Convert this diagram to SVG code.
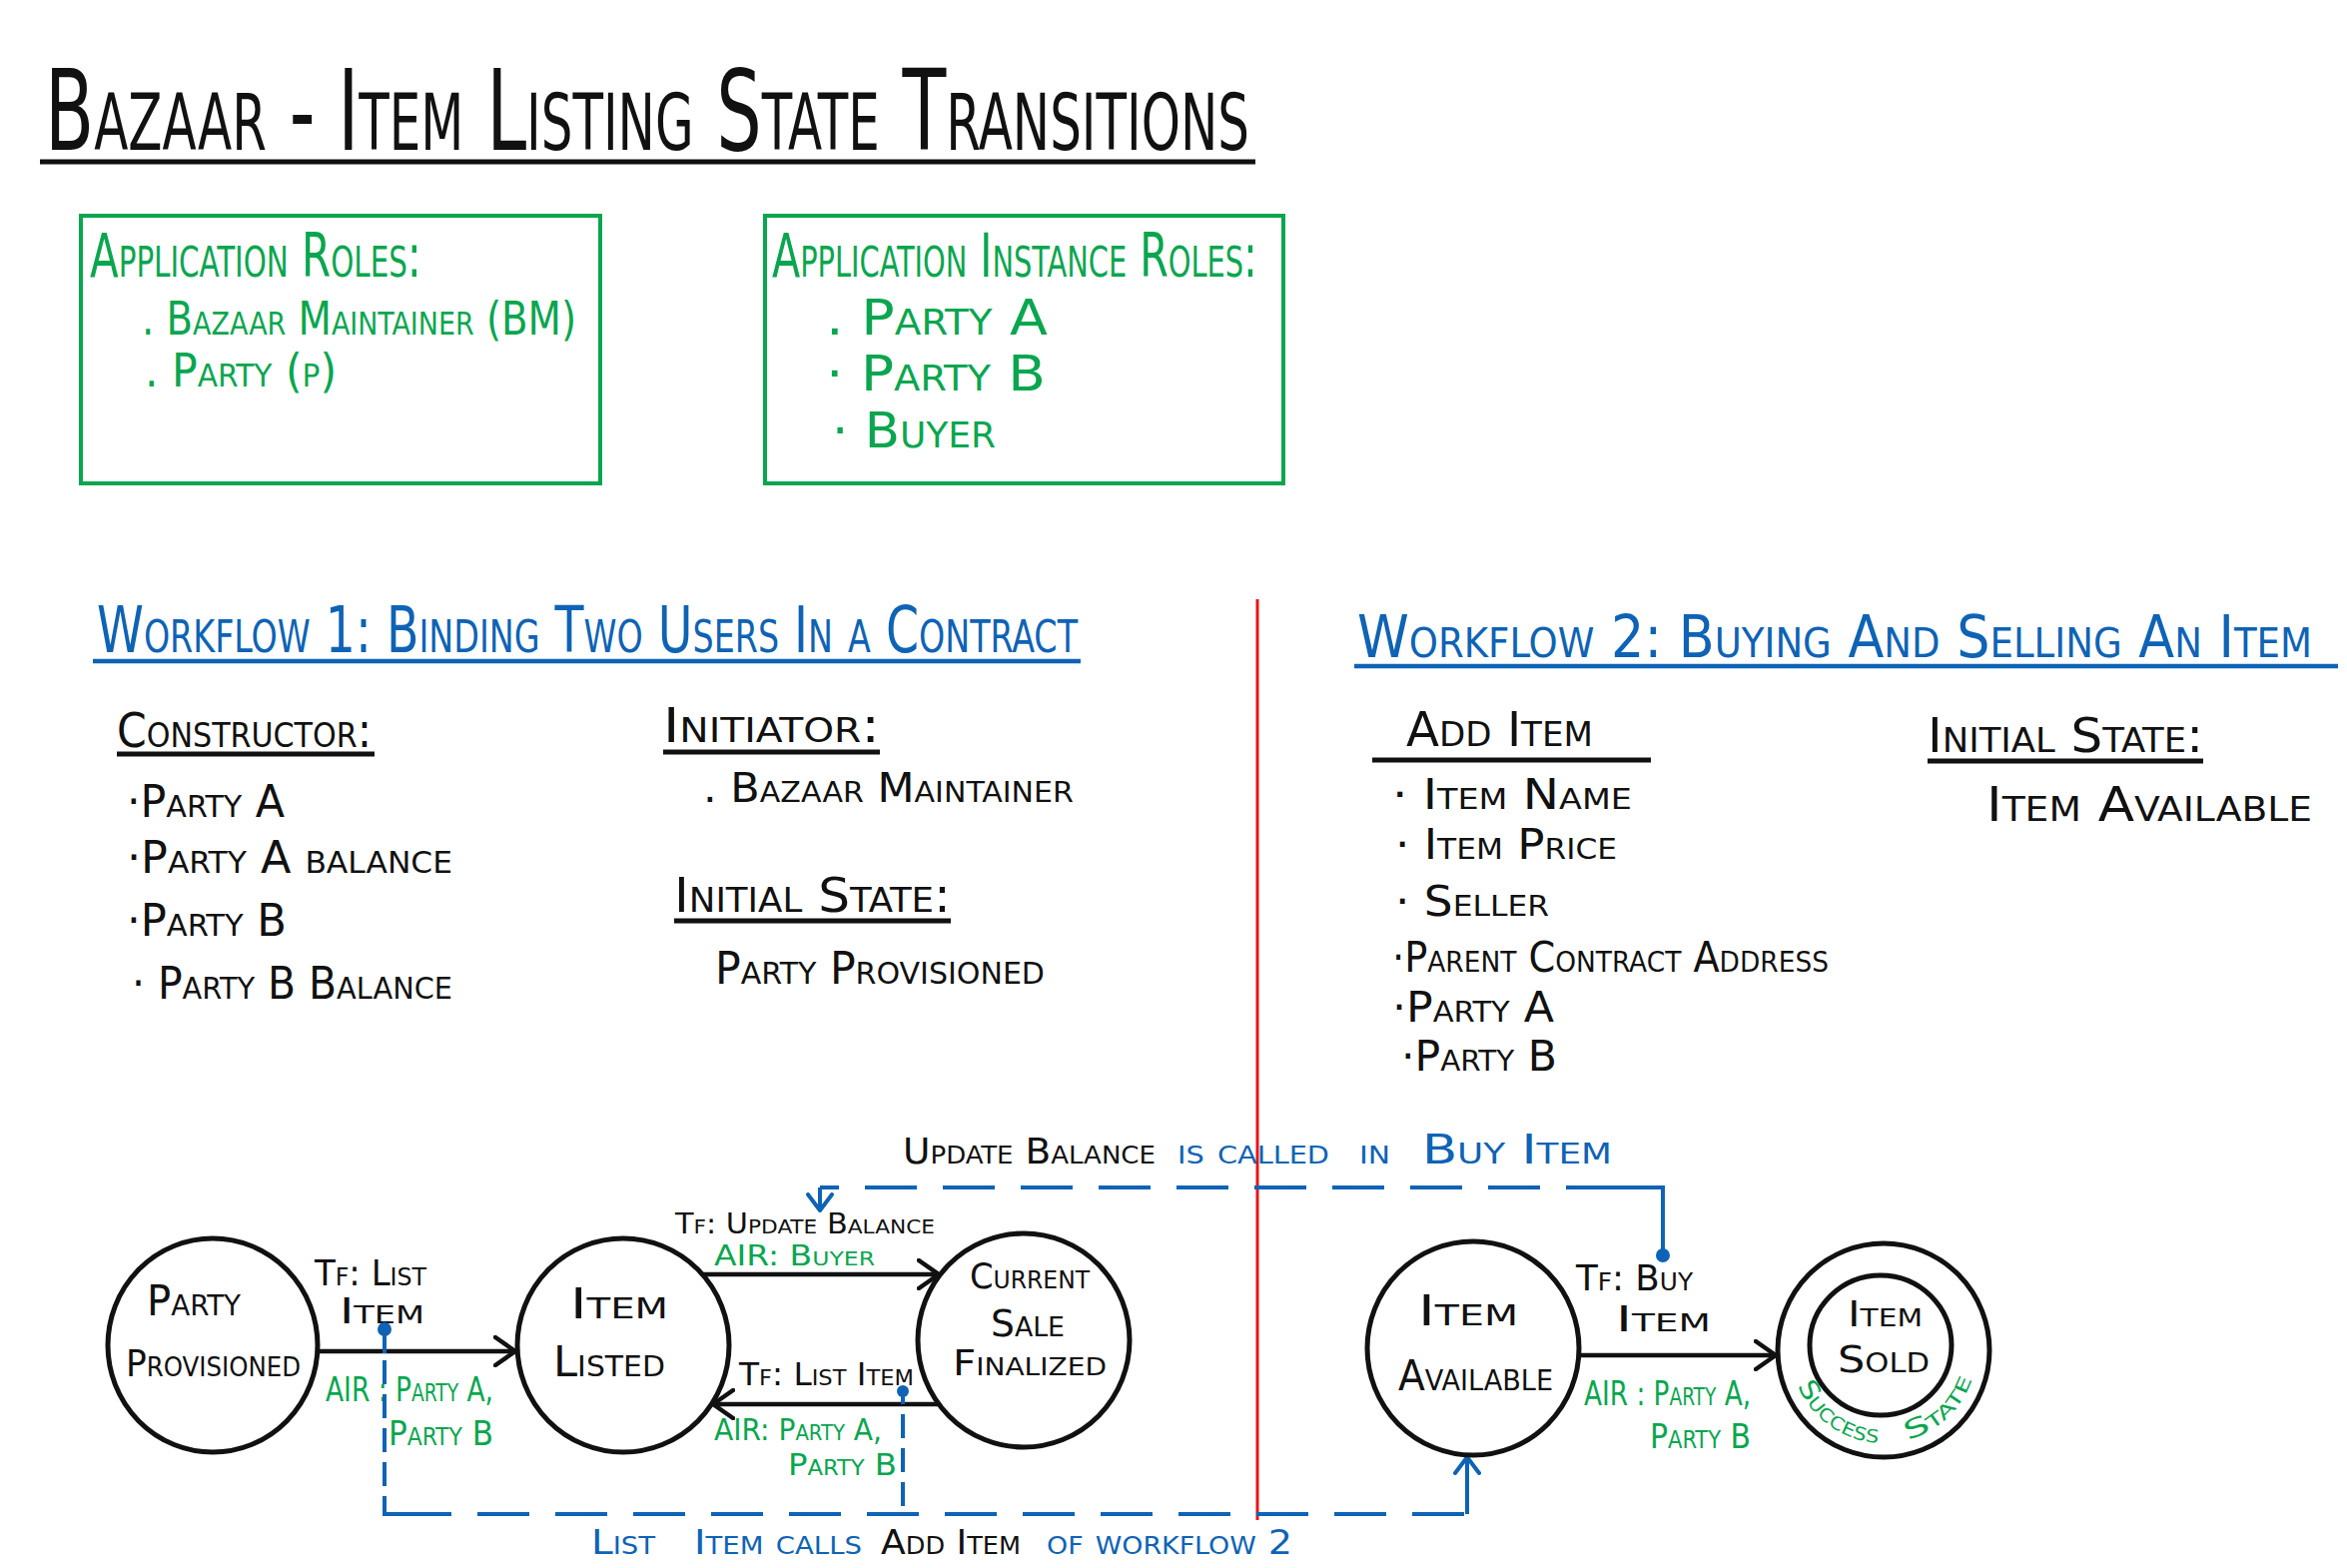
<svg xmlns="http://www.w3.org/2000/svg" width="2350" height="1570" viewBox="0 0 2350 1570">
<defs>
<style>
.t{font-family:"Liberation Sans Narrow","DejaVu Sans Condensed","Liberation Sans",sans-serif;font-variant:small-caps;}
.k{fill:#111;}
.g{fill:#0aa64f;}
.b{fill:#0e63b5;}
.node{fill:#fff;stroke:#111;stroke-width:5;}
.edge{stroke:#111;stroke-width:4.5;fill:none;}
.dh{stroke:#0e63b5;stroke-width:4;fill:none;stroke-dasharray:52 26;}
.dv{stroke:#0e63b5;stroke-width:4;fill:none;stroke-dasharray:24 10;}
.sb{stroke:#0e63b5;stroke-width:4;fill:none;}
.ul{stroke:#111;stroke-width:5;}
.ulb{stroke:#0e63b5;stroke-width:4.5;}
.box{fill:none;stroke:#0aa64f;stroke-width:4;}
</style>
<marker id="ah" viewBox="0 0 24 32" refX="22" refY="16" markerWidth="24" markerHeight="32" markerUnits="userSpaceOnUse" orient="auto">
<path d="M2,2 L22,16 L2,30" fill="none" stroke="#111" stroke-width="4.5" stroke-linecap="round" stroke-linejoin="round"/>
</marker>
<marker id="ahb" viewBox="0 0 20 28" refX="18" refY="14" markerWidth="20" markerHeight="28" markerUnits="userSpaceOnUse" orient="auto">
<path d="M2,2 L18,14 L2,26" fill="none" stroke="#0e63b5" stroke-width="4" stroke-linecap="round" stroke-linejoin="round"/>
</marker>
<path id="arc" d="M1796.2,1376.1 A93,93 0 0 0 1977.6,1368.1"/>
</defs>

<g id="title">
<text class="t k" x="45" y="150" font-size="112" textLength="1206" lengthAdjust="spacingAndGlyphs">Bazaar - Item Listing State Transitions</text>
<line class="ul" x1="40" y1="162" x2="1257" y2="162" stroke-width="6"/>
</g>

<g id="app-roles">
<rect class="box" x="81" y="216" width="520" height="268"/>
<text class="t g" x="90" y="277" font-size="60" textLength="332" lengthAdjust="spacingAndGlyphs">Application Roles:</text>
<text class="t g" x="142" y="335" font-size="46" textLength="435" lengthAdjust="spacingAndGlyphs">. Bazaar Maintainer (BM)</text>
<text class="t g" x="145" y="387" font-size="46" textLength="192" lengthAdjust="spacingAndGlyphs">. Party (p)</text>
</g>

<g id="instance-roles">
<rect class="box" x="766" y="216" width="519" height="268"/>
<text class="t g" x="773" y="277" font-size="60" textLength="486" lengthAdjust="spacingAndGlyphs">Application Instance Roles:</text>
<text class="t g" x="827" y="335" font-size="50" textLength="222" lengthAdjust="spacingAndGlyphs">. Party  A</text>
<text class="t g" x="827" y="391" font-size="50" textLength="220" lengthAdjust="spacingAndGlyphs">· Party  B</text>
<text class="t g" x="833" y="448" font-size="50" textLength="164" lengthAdjust="spacingAndGlyphs">· Buyer</text>
</g>

<line id="divider" x1="1259" y1="600" x2="1259" y2="1522" stroke="#e8141c" stroke-width="3"/>

<g id="workflow1-info">
<text class="t b" x="97" y="653" font-size="64" textLength="982" lengthAdjust="spacingAndGlyphs">Workflow 1:  Binding Two Users In a Contract</text>
<line class="ulb" x1="93" y1="662" x2="1082" y2="662"/>
<text class="t k" x="117" y="748" font-size="48" textLength="255" lengthAdjust="spacingAndGlyphs">Constructor:</text>
<line class="ul" x1="117" y1="755" x2="375" y2="755"/>
<text class="t k" x="127" y="818" font-size="44" textLength="158" lengthAdjust="spacingAndGlyphs">·Party A</text>
<text class="t k" x="127" y="874" font-size="44" textLength="326" lengthAdjust="spacingAndGlyphs">·Party A balance</text>
<text class="t k" x="127" y="937" font-size="44" textLength="160" lengthAdjust="spacingAndGlyphs">·Party B</text>
<text class="t k" x="132" y="1000" font-size="44" textLength="321" lengthAdjust="spacingAndGlyphs">· Party B Balance</text>
<text class="t k" x="664" y="743" font-size="48" textLength="217" lengthAdjust="spacingAndGlyphs">Initiator:</text>
<line class="ul" x1="664" y1="753" x2="881" y2="753"/>
<text class="t k" x="704" y="803" font-size="40" textLength="371" lengthAdjust="spacingAndGlyphs">. Bazaar Maintainer</text>
<text class="t k" x="675" y="913" font-size="48" textLength="277" lengthAdjust="spacingAndGlyphs">Initial State:</text>
<line class="ul" x1="675" y1="922" x2="952" y2="922"/>
<text class="t k" x="716" y="985" font-size="44" textLength="330" lengthAdjust="spacingAndGlyphs">Party Provisioned</text>
</g>

<g id="workflow2-info">
<text class="t b" x="1359" y="658" font-size="58" textLength="956" lengthAdjust="spacingAndGlyphs">Workflow 2: Buying And Selling An Item</text>
<line class="ulb" x1="1356" y1="667" x2="2341" y2="667"/>
<text class="t k" x="1408" y="747" font-size="48" textLength="187" lengthAdjust="spacingAndGlyphs">Add Item</text>
<line class="ul" x1="1374" y1="761" x2="1653" y2="761"/>
<text class="t k" x="1394" y="810" font-size="42" textLength="240" lengthAdjust="spacingAndGlyphs">· Item Name</text>
<text class="t k" x="1397" y="860" font-size="42" textLength="222" lengthAdjust="spacingAndGlyphs">· Item Price</text>
<text class="t k" x="1397" y="917" font-size="42" textLength="154" lengthAdjust="spacingAndGlyphs">· Seller</text>
<text class="t k" x="1394" y="973" font-size="42" textLength="437" lengthAdjust="spacingAndGlyphs">·Parent Contract Address</text>
<text class="t k" x="1394" y="1023" font-size="42" textLength="162" lengthAdjust="spacingAndGlyphs">·Party A</text>
<text class="t k" x="1403" y="1072" font-size="42" textLength="156" lengthAdjust="spacingAndGlyphs">·Party B</text>
<text class="t k" x="1930" y="753" font-size="48" textLength="276" lengthAdjust="spacingAndGlyphs">Initial State:</text>
<line class="ul" x1="1930" y1="762" x2="2206" y2="762"/>
<text class="t k" x="1989" y="822" font-size="48" textLength="326" lengthAdjust="spacingAndGlyphs">Item  Available</text>
</g>

<g id="connectors">
<line class="edge" x1="318" y1="1353" x2="516" y2="1353" marker-end="url(#ah)"/>
<line class="edge" x1="703" y1="1276" x2="940" y2="1276" marker-end="url(#ah)"/>
<line class="edge" x1="942" y1="1406" x2="714" y2="1406" marker-end="url(#ah)"/>
<line class="edge" x1="1581" y1="1357" x2="1778" y2="1357" marker-end="url(#ah)"/>
<text class="t k" x="315" y="1287" font-size="36" textLength="112" lengthAdjust="spacingAndGlyphs">Tf: List</text>
<text class="t k" x="340" y="1325" font-size="36" textLength="85" lengthAdjust="spacingAndGlyphs">Item</text>
<text class="t g" x="326" y="1403" font-size="34" textLength="168" lengthAdjust="spacingAndGlyphs">AIR : Party A,</text>
<text class="t g" x="389" y="1447" font-size="34" textLength="105" lengthAdjust="spacingAndGlyphs">Party B</text>
<text class="t k" x="676" y="1235" font-size="28" textLength="260" lengthAdjust="spacingAndGlyphs">Tf: Update Balance</text>
<text class="t g" x="715" y="1267" font-size="28" textLength="161" lengthAdjust="spacingAndGlyphs">AIR: Buyer</text>
<text class="t k" x="740" y="1387" font-size="32" textLength="175" lengthAdjust="spacingAndGlyphs">Tf: List Item</text>
<text class="t g" x="715" y="1442" font-size="30" textLength="168" lengthAdjust="spacingAndGlyphs">AIR: Party A,</text>
<text class="t g" x="789" y="1477" font-size="30" textLength="109" lengthAdjust="spacingAndGlyphs">Party B</text>
<text class="t k" x="1578" y="1292" font-size="36" textLength="117" lengthAdjust="spacingAndGlyphs">Tf: Buy</text>
<text class="t k" x="1618" y="1333" font-size="36" textLength="95" lengthAdjust="spacingAndGlyphs">Item</text>
<text class="t g" x="1586" y="1407" font-size="34" textLength="167" lengthAdjust="spacingAndGlyphs">AIR : Party A,</text>
<text class="t g" x="1652" y="1450" font-size="34" textLength="101" lengthAdjust="spacingAndGlyphs">Party B</text>

<circle cx="1665" cy="1257" r="7" fill="#0e63b5"/>
<polyline class="sb" points="1665,1257 1665,1189 1620,1189"/>
<line class="dh" x1="1620" y1="1189" x2="821" y2="1189"/>
<line class="sb" x1="821" y1="1189" x2="821" y2="1212" marker-end="url(#ahb)"/>
<text class="t k" x="904" y="1165" font-size="36" textLength="253" lengthAdjust="spacingAndGlyphs">Update Balance</text>
<text class="t b" x="1179" y="1165" font-size="36" textLength="152" lengthAdjust="spacingAndGlyphs">is called</text>
<text class="t b" x="1361" y="1165" font-size="36" textLength="31" lengthAdjust="spacingAndGlyphs">in</text>
<text class="t b" x="1424" y="1165" font-size="40" textLength="190" lengthAdjust="spacingAndGlyphs">Buy  Item</text>

<circle cx="385" cy="1331" r="7" fill="#0e63b5"/>
<line class="sb" x1="385" y1="1331" x2="385" y2="1355"/>
<line class="dv" x1="385" y1="1362" x2="385" y2="1505"/>
<polyline class="sb" points="385,1505 385,1516 400,1516"/>
<line class="dh" x1="400" y1="1516" x2="1469" y2="1516"/>
<circle cx="904" cy="1393" r="6" fill="#0e63b5"/>
<line class="sb" x1="904" y1="1393" x2="904" y2="1406"/>
<line class="dv" x1="904" y1="1416" x2="904" y2="1516"/>
<line class="sb" x1="1469" y1="1516" x2="1469" y2="1459" marker-end="url(#ahb)"/>
<text class="t b" x="592" y="1556" font-size="34" textLength="64" lengthAdjust="spacingAndGlyphs">List</text>
<text class="t b" x="695" y="1556" font-size="34" textLength="168" lengthAdjust="spacingAndGlyphs">Item calls</text>
<text class="t k" x="882" y="1556" font-size="34" textLength="140" lengthAdjust="spacingAndGlyphs">Add Item</text>
<text class="t b" x="1048" y="1556" font-size="34" textLength="246" lengthAdjust="spacingAndGlyphs">of workflow 2</text>
</g>

<g id="node-party-provisioned">
<ellipse class="node" cx="213" cy="1347" rx="105" ry="107"/>
<text class="t k" x="147" y="1317" font-size="42" textLength="94" lengthAdjust="spacingAndGlyphs">Party</text>
<text class="t k" x="126" y="1378" font-size="38" textLength="175" lengthAdjust="spacingAndGlyphs">Provisioned</text>
</g>

<g id="node-item-listed">
<ellipse class="node" cx="624" cy="1347" rx="106" ry="107"/>
<text class="t k" x="571" y="1320" font-size="42" textLength="98" lengthAdjust="spacingAndGlyphs">Item</text>
<text class="t k" x="554" y="1378" font-size="42" textLength="112" lengthAdjust="spacingAndGlyphs">Listed</text>
</g>

<g id="node-current-sale-finalized">
<ellipse class="node" cx="1025" cy="1342" rx="106" ry="107"/>
<text class="t k" x="971" y="1290" font-size="36" textLength="120" lengthAdjust="spacingAndGlyphs">Current</text>
<text class="t k" x="992" y="1338" font-size="38" textLength="74" lengthAdjust="spacingAndGlyphs">Sale</text>
<text class="t k" x="954" y="1377" font-size="36" textLength="154" lengthAdjust="spacingAndGlyphs">Finalized</text>
</g>

<g id="node-item-available">
<ellipse class="node" cx="1475" cy="1350" rx="106" ry="107"/>
<text class="t k" x="1420" y="1327" font-size="42" textLength="100" lengthAdjust="spacingAndGlyphs">Item</text>
<text class="t k" x="1400" y="1392" font-size="42" textLength="155" lengthAdjust="spacingAndGlyphs">Available</text>
</g>

<g id="node-item-sold">
<ellipse class="node" cx="1886" cy="1352" rx="106" ry="107"/>
<ellipse class="node" cx="1883" cy="1347" rx="71" ry="70"/>
<text class="t k" x="1850" y="1328" font-size="36" textLength="75" lengthAdjust="spacingAndGlyphs">Item</text>
<text class="t k" x="1840" y="1374" font-size="38" textLength="92" lengthAdjust="spacingAndGlyphs">Sold</text>
<text class="t g" font-size="26"><textPath href="#arc" startOffset="12" textLength="104" lengthAdjust="spacingAndGlyphs">Success</textPath></text>
<text class="t g" font-size="26"><textPath href="#arc" startOffset="146" textLength="92" lengthAdjust="spacingAndGlyphs">State</textPath></text>
</g>
</svg>
